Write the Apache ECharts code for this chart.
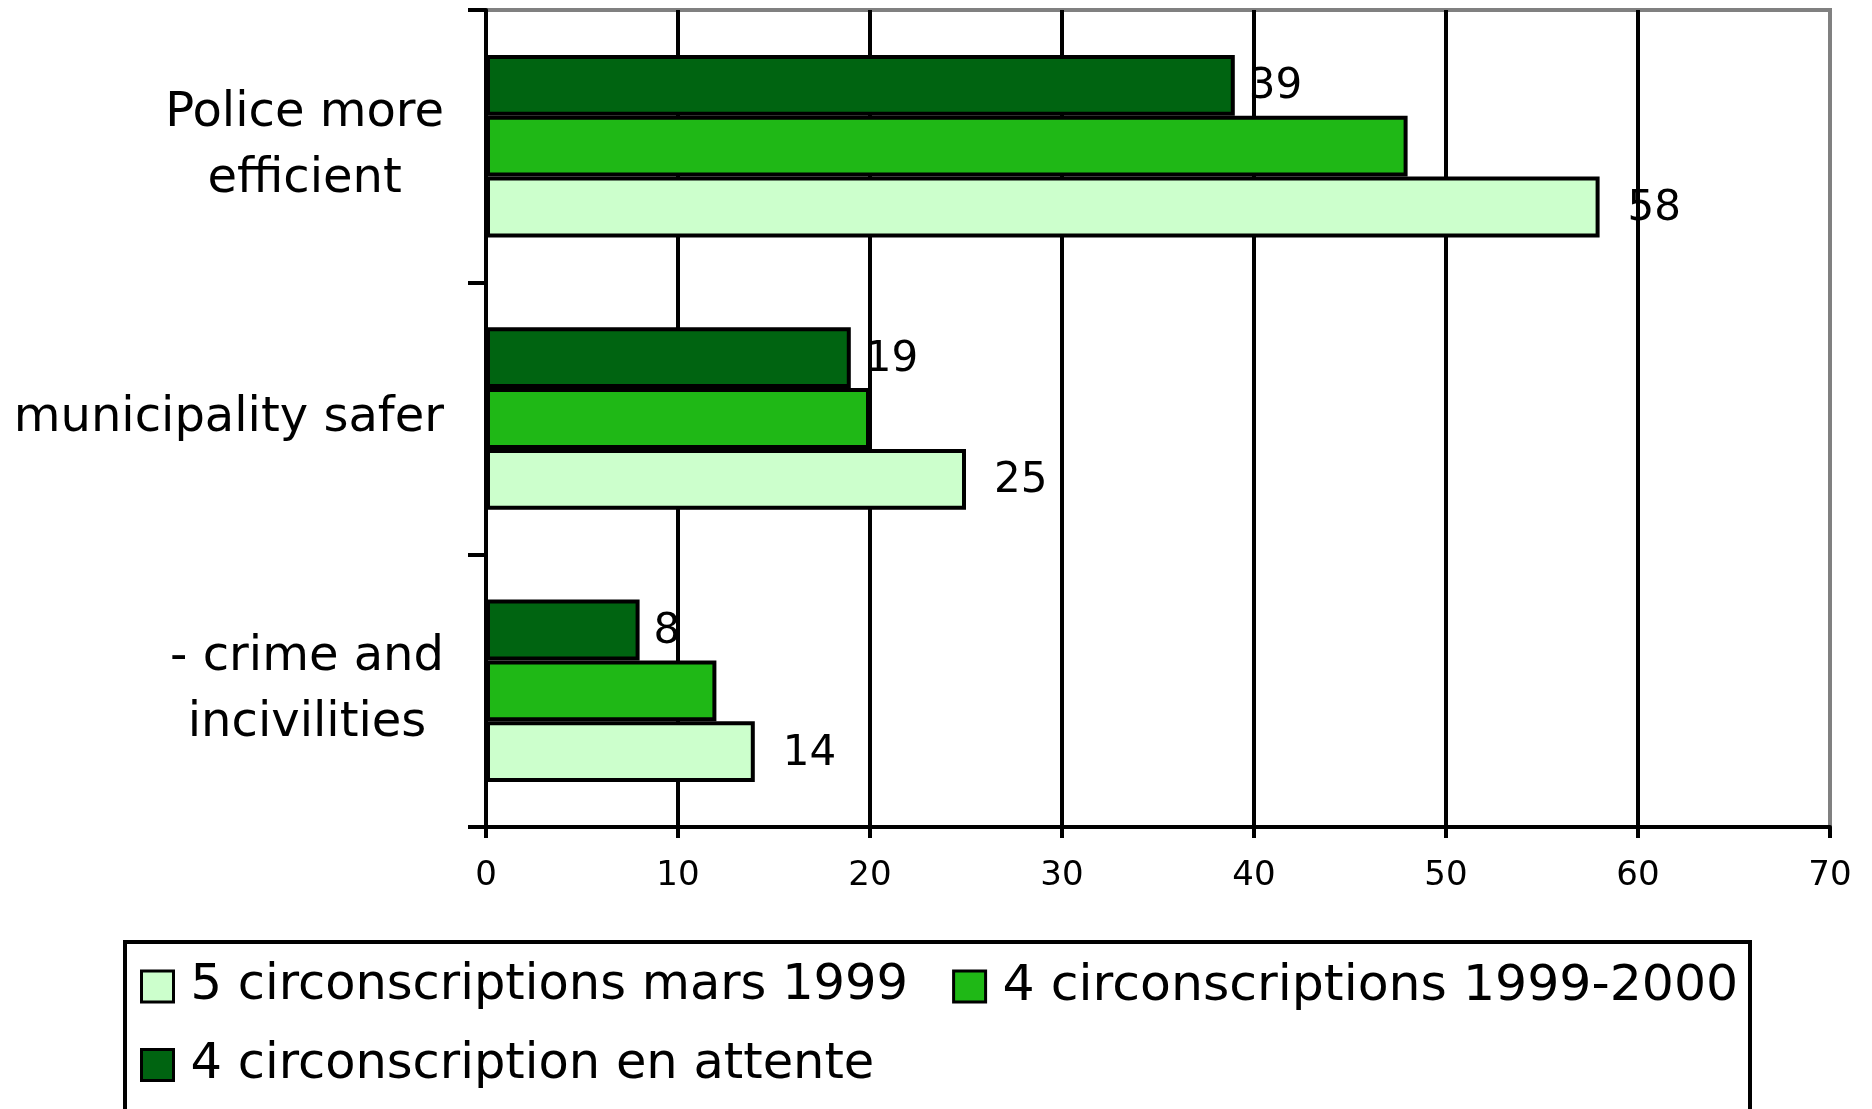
<!DOCTYPE html>
<html>
<head>
<meta charset="utf-8">
<style>
html,body{margin:0;padding:0;background:#fff;}
#chart{width:1872px;height:1109px;}
</style>
<script src="https://cdn.jsdelivr.net/npm/echarts@6/dist/echarts.min.js"></script>
</head>
<body>
<div id="chart"></div>
<script>
// Categories, bottom to top (category axis starts at the bottom)
var categories = ['- crime and\nincivilities', 'municipality safer', 'Police more\nefficient'];
var seriesNames = ['5 circonscriptions mars 1999', '4 circonscriptions 1999-2000', '4 circonscription en attente'];
var valuesMars1999 = [14, 25, 58];
var values19992000 = [12, 20, 48];
var valuesAttente = [8, 19, 39];
var xTicks = [0, 10, 20, 30, 40, 50, 60, 70];

var FONT = 'DejaVu Sans';
var chart = echarts.init(document.getElementById('chart'), null, {renderer: 'canvas'});

function barSeries(name, data, color, showLabel, dist) {
  return {
    name: name,
    type: 'bar',
    data: data,
    barGap: '0%',
    barCategoryGap: '33%',
    itemStyle: {color: color, borderColor: '#000', borderWidth: 4},
    label: {
      show: showLabel,
      position: 'right',
      distance: dist,
      offset: [0, 2],
      color: '#000',
      fontFamily: FONT,
      fontSize: 42
    },
    emphasis: {disabled: true}
  };
}

function legendBlock(items, top) {
  return {
    data: items,
    left: 140, top: top,
    orient: 'horizontal',
    padding: 0,
    itemGap: 44,
    itemWidth: 32, itemHeight: 31,
    icon: 'rect',
    itemStyle: {borderColor: '#000', borderWidth: 3},
    textStyle: {fontFamily: FONT, fontSize: 49.5, color: '#000', padding: [0, 0, 0, 12]},
    selectedMode: false
  };
}

var option = {
  backgroundColor: '#fff',
  animation: false,
  grid: {
    left: 486, right: 42, top: 10, bottom: 282,
    show: true, borderColor: '#808080', borderWidth: 4, backgroundColor: 'transparent'
  },
  graphic: [{
    type: 'rect',
    shape: {x: 125, y: 942, width: 1625, height: 220},
    style: {fill: 'none', stroke: '#000', lineWidth: 4},
    silent: true
  }],
  legend: [
    legendBlock([seriesNames[0], {name: seriesNames[1], textStyle: {fontSize: 50.5}}], 961),
    legendBlock([seriesNames[2]], 1040)
  ],
  xAxis: {
    type: 'value',
    min: xTicks[0], max: xTicks[xTicks.length - 1], interval: 10,
    axisLine: {show: true, lineStyle: {color: '#000', width: 4}},
    axisTick: {show: true, length: 11, lineStyle: {color: '#000', width: 4}},
    axisLabel: {color: '#000', fontFamily: FONT, fontSize: 34, margin: 32},
    splitLine: {show: true, showMinLine: false, showMaxLine: false, lineStyle: {color: '#000', width: 4}}
  },
  yAxis: {
    type: 'category',
    data: categories,
    axisLine: {show: true, lineStyle: {color: '#000', width: 4}},
    axisTick: {show: true, length: 18, lineStyle: {color: '#000', width: 4}},
    axisLabel: {
      margin: 42,
      formatter: function (v) {
        return v.split('\n').map(function (s) { return '{c|' + s + '}'; }).join('\n');
      },
      rich: {
        c: {align: 'center', fontFamily: FONT, fontSize: 48, lineHeight: 66, color: '#000'}
      }
    },
    splitLine: {show: false}
  },
  series: [
    barSeries(seriesNames[2], valuesAttente, '#006411', true, 14),
    barSeries(seriesNames[1], values19992000, '#1FB816', false, 10),
    barSeries(seriesNames[0], valuesMars1999, '#CCFFCC', true, 28)
  ]
};
chart.setOption(option);
</script>
</body>
</html>
